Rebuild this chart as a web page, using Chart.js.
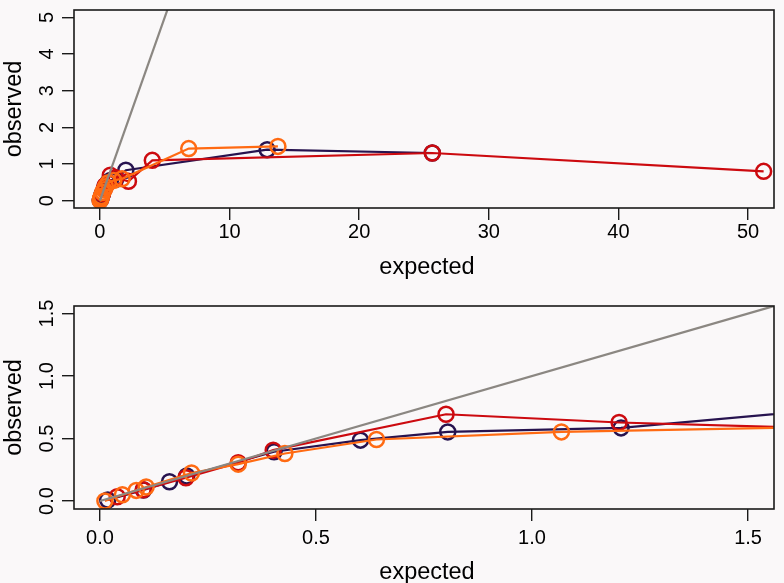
<!DOCTYPE html>
<html>
<head>
<meta charset="utf-8">
<script src="https://cdn.jsdelivr.net/npm/chart.js@4.4.0/dist/chart.umd.min.js"></script>
<style>
  html, body { margin: 0; padding: 0; background: #faf8f9; }
  canvas { display: block; }
</style>
</head>
<body>
<canvas id="topChart" width="784" height="291"></canvas>
<canvas id="bottomChart" width="784" height="292"></canvas>
<script>
// Series (expected, observed)
const navyX = [0.018, 0.101, 0.161, 0.201, 0.403, 0.603, 0.805, 1.206, 2.0, 12.9, 25.64];
const navyY = [0.008, 0.088, 0.154, 0.20, 0.394, 0.487, 0.553, 0.585, 0.83, 1.39, 1.30];

const redX = [0.04, 0.10, 0.199, 0.32, 0.401, 0.801, 1.2015, 2.2, 4.04, 25.64, 51.2];
const redY = [0.034, 0.09, 0.186, 0.306, 0.407, 0.694, 0.628, 0.53, 1.10, 1.30, 0.80];

const orangeX = [0.0115, 0.052, 0.084, 0.107, 0.212, 0.32, 0.428, 0.64, 1.068, 1.71, 6.85, 13.73];
const orangeY = [0.0, 0.05, 0.085, 0.112, 0.224, 0.295, 0.38, 0.492, 0.553, 0.595, 1.42, 1.48];

// y = x reference line
const identityX = [0, 60];
const identityY = [0, 60];

// Tick values and labels
const xTicksTop = [0, 10, 20, 30, 40, 50];
const yTicksTop = [0, 1, 2, 3, 4, 5];
const xTicksBottom = [0, 0.5, 1, 1.5];
const yTicksBottom = [0, 0.5, 1, 1.5];
const tickLabelsBottom = ['0.0', '0.5', '1.0', '1.5'];

const colors = {
  navy: '#27134f',
  red: '#cc0a0f',
  orange: '#ff6a12',
  grey: '#8b8782'
};

const FONT = '"Liberation Sans", Arial, Helvetica, sans-serif';

function toPoints(xs, ys) {
  return xs.map((x, i) => ({ x: x, y: ys[i] }));
}

function makeDatasets() {
  const seriesStyle = (color) => ({
    showLine: true,
    borderColor: color,
    borderWidth: 2.2,
    pointRadius: 7.5,
    pointBorderWidth: 2.5,
    pointBackgroundColor: 'rgba(0,0,0,0)',
    pointBorderColor: color,
    clip: 0
  });
  return [
    { label: 'identity', data: toPoints(identityX, identityY), showLine: true,
      borderColor: colors.grey, borderWidth: 2.2, pointRadius: 0, clip: 0 },
    Object.assign({ label: 'orange', data: toPoints(orangeX, orangeY) }, seriesStyle(colors.orange)),
    Object.assign({ label: 'red', data: toPoints(redX, redY) }, seriesStyle(colors.red)),
    Object.assign({ label: 'navy', data: toPoints(navyX, navyY) }, seriesStyle(colors.navy))
  ];
}

// R-style frame: box, tick labels (y labels rotated) and axis titles
const rFrame = {
  id: 'rFrame',
  afterDraw(chart, args, opts) {
    const ctx = chart.ctx;
    const area = chart.chartArea;
    const xs = chart.scales.x;
    const ys = chart.scales.y;
    ctx.save();
    ctx.strokeStyle = '#1a1a1a';
    ctx.lineWidth = 1.6;
    ctx.strokeRect(area.left, area.top, area.right - area.left, area.bottom - area.top);

    ctx.fillStyle = '#000';
    ctx.font = '20px ' + FONT;
    ctx.textAlign = 'center';
    ctx.textBaseline = 'middle';
    opts.xTicks.forEach((v, i) => {
      ctx.fillText(opts.xLabels[i], xs.getPixelForValue(v), area.bottom + opts.labelOffset);
    });
    opts.yTicks.forEach((v, i) => {
      ctx.save();
      ctx.translate(47, ys.getPixelForValue(v));
      ctx.rotate(-Math.PI / 2);
      ctx.fillText(opts.yLabels[i], 0, 0);
      ctx.restore();
    });

    ctx.font = '23.5px ' + FONT;
    ctx.fillText('expected', (area.left + area.right) / 2 + 3, area.bottom + opts.titleOffset);
    ctx.save();
    ctx.translate(15, (area.top + area.bottom) / 2);
    ctx.rotate(-Math.PI / 2);
    ctx.fillText('observed', 0, 0);
    ctx.restore();
    ctx.restore();
  }
};

function axis(min, max, ticks, size, isX) {
  const opt = {
    type: 'linear',
    min: min,
    max: max,
    afterBuildTicks: (scale) => { scale.ticks = ticks.map(v => ({ value: v })); },
    ticks: { display: false },
    border: { display: false },
    grid: { drawOnChartArea: false, drawTicks: true, tickLength: 12, color: '#1a1a1a', lineWidth: 1.4 }
  };
  if (isX) {
    opt.position = 'bottom';
    opt.afterFit = (scale) => { scale.height = size; };
  } else {
    opt.position = 'left';
    opt.afterFit = (scale) => { scale.width = size; };
  }
  return opt;
}

function makeChart(id, cfg) {
  return new Chart(document.getElementById(id).getContext('2d'), {
    type: 'scatter',
    data: { datasets: makeDatasets() },
    options: {
      responsive: false,
      animation: false,
      layout: { padding: { top: cfg.padTop, right: 6, left: 0, bottom: 0 } },
      scales: {
        x: axis(cfg.xMin, cfg.xMax, cfg.xTicks, cfg.xAxisHeight, true),
        y: axis(cfg.yMin, cfg.yMax, cfg.yTicks, 74, false)
      },
      plugins: {
        legend: { display: false },
        tooltip: { enabled: false },
        rFrame: {
          xTicks: cfg.xTicks, xLabels: cfg.xLabels,
          yTicks: cfg.yTicks, yLabels: cfg.yLabels,
          labelOffset: cfg.labelOffset, titleOffset: cfg.titleOffset
        }
      }
    },
    plugins: [rFrame]
  });
}

Chart.defaults.font.family = FONT;

makeChart('topChart', {
  padTop: 5, xAxisHeight: 83,
  xMin: -2, xMax: 52, yMin: -0.2, yMax: 5.2,
  xTicks: xTicksTop, xLabels: xTicksTop.map(String),
  yTicks: yTicksTop, yLabels: yTicksTop.map(String),
  labelOffset: 24, titleOffset: 60
});

makeChart('bottomChart', {
  padTop: 15, xAxisHeight: 74,
  xMin: -0.06, xMax: 1.56, yMin: -0.064, yMax: 1.56,
  xTicks: xTicksBottom, xLabels: tickLabelsBottom,
  yTicks: yTicksBottom, yLabels: tickLabelsBottom,
  labelOffset: 29, titleOffset: 64
});
</script>
</body>
</html>
